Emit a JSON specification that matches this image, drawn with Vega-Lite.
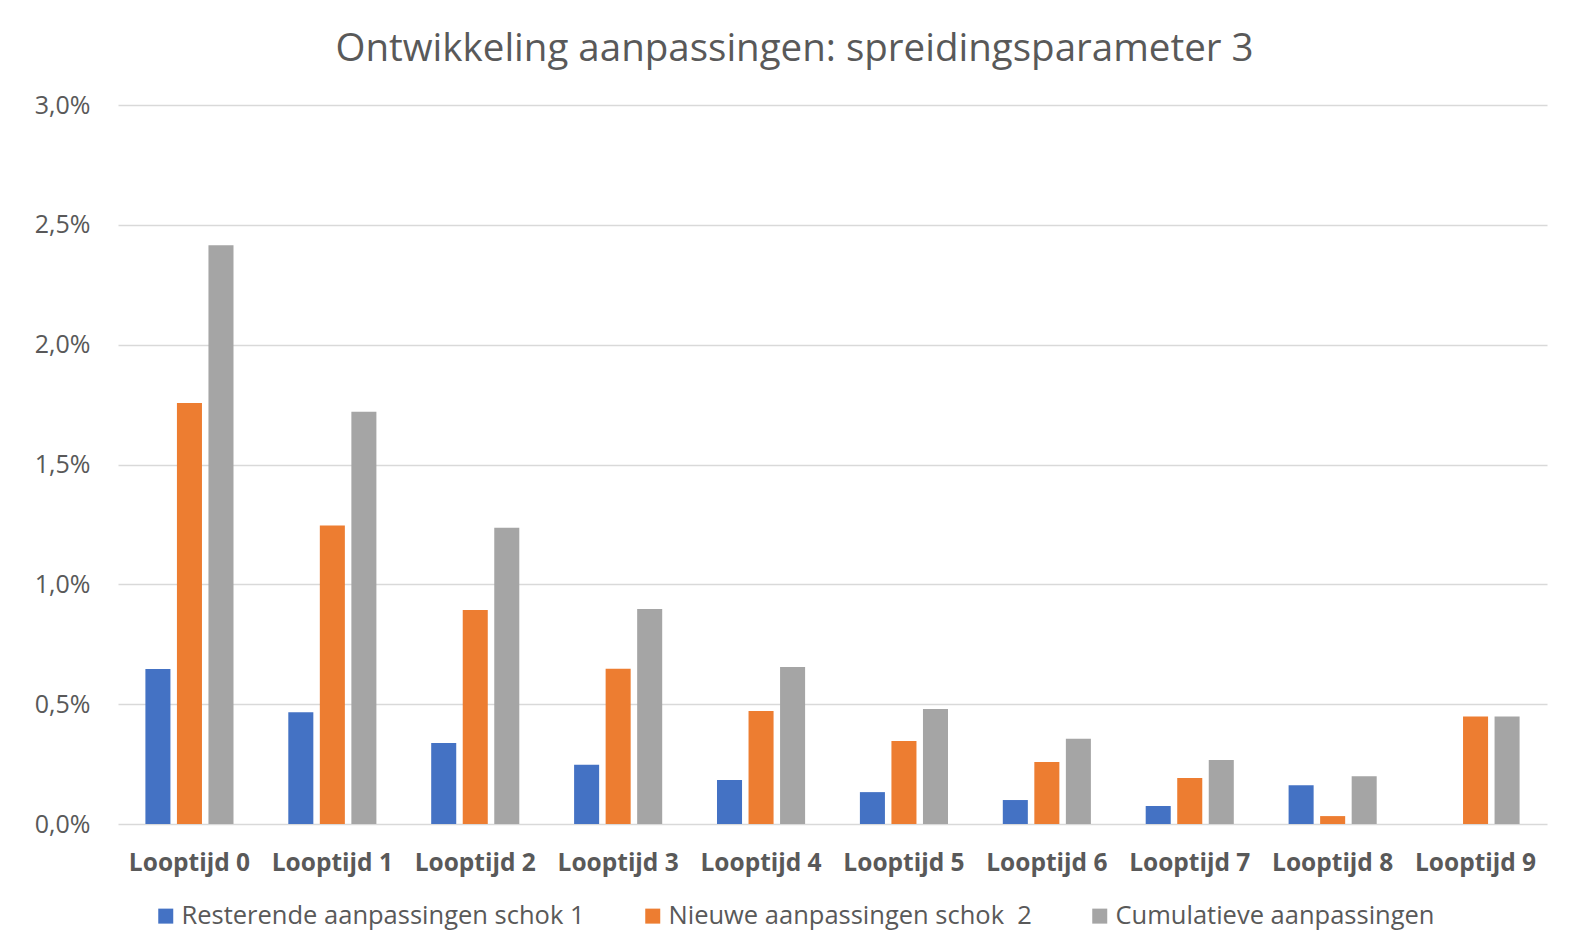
{
  "$schema": "https://vega.github.io/schema/vega-lite/v6.json",
  "width": 1429,
  "height": 719,
  "autosize": {"type": "none"},
  "padding": {"left": 118, "top": 105, "right": 25, "bottom": 120},
  "background": "white",
  "title": {
    "text": "Ontwikkeling aanpassingen: spreidingsparameter 3",
    "font": "Open Sans",
    "fontSize": 38.5,
    "fontWeight": "normal",
    "color": "#595959",
    "anchor": "middle",
    "dx": -38,
    "offset": 24
  },
  "data": {
    "values": [
      {"looptijd": "Looptijd 0", "reeks": "Resterende aanpassingen schok 1", "waarde": 0.647},
      {"looptijd": "Looptijd 0", "reeks": "Nieuwe aanpassingen schok  2", "waarde": 1.757},
      {"looptijd": "Looptijd 0", "reeks": "Cumulatieve aanpassingen", "waarde": 2.415},
      {"looptijd": "Looptijd 1", "reeks": "Resterende aanpassingen schok 1", "waarde": 0.466},
      {"looptijd": "Looptijd 1", "reeks": "Nieuwe aanpassingen schok  2", "waarde": 1.245},
      {"looptijd": "Looptijd 1", "reeks": "Cumulatieve aanpassingen", "waarde": 1.72},
      {"looptijd": "Looptijd 2", "reeks": "Resterende aanpassingen schok 1", "waarde": 0.338},
      {"looptijd": "Looptijd 2", "reeks": "Nieuwe aanpassingen schok  2", "waarde": 0.893},
      {"looptijd": "Looptijd 2", "reeks": "Cumulatieve aanpassingen", "waarde": 1.236},
      {"looptijd": "Looptijd 3", "reeks": "Resterende aanpassingen schok 1", "waarde": 0.247},
      {"looptijd": "Looptijd 3", "reeks": "Nieuwe aanpassingen schok  2", "waarde": 0.648},
      {"looptijd": "Looptijd 3", "reeks": "Cumulatieve aanpassingen", "waarde": 0.897},
      {"looptijd": "Looptijd 4", "reeks": "Resterende aanpassingen schok 1", "waarde": 0.184},
      {"looptijd": "Looptijd 4", "reeks": "Nieuwe aanpassingen schok  2", "waarde": 0.471},
      {"looptijd": "Looptijd 4", "reeks": "Cumulatieve aanpassingen", "waarde": 0.655},
      {"looptijd": "Looptijd 5", "reeks": "Resterende aanpassingen schok 1", "waarde": 0.133},
      {"looptijd": "Looptijd 5", "reeks": "Nieuwe aanpassingen schok  2", "waarde": 0.346},
      {"looptijd": "Looptijd 5", "reeks": "Cumulatieve aanpassingen", "waarde": 0.48},
      {"looptijd": "Looptijd 6", "reeks": "Resterende aanpassingen schok 1", "waarde": 0.1},
      {"looptijd": "Looptijd 6", "reeks": "Nieuwe aanpassingen schok  2", "waarde": 0.259},
      {"looptijd": "Looptijd 6", "reeks": "Cumulatieve aanpassingen", "waarde": 0.356},
      {"looptijd": "Looptijd 7", "reeks": "Resterende aanpassingen schok 1", "waarde": 0.075},
      {"looptijd": "Looptijd 7", "reeks": "Nieuwe aanpassingen schok  2", "waarde": 0.192},
      {"looptijd": "Looptijd 7", "reeks": "Cumulatieve aanpassingen", "waarde": 0.267},
      {"looptijd": "Looptijd 8", "reeks": "Resterende aanpassingen schok 1", "waarde": 0.162},
      {"looptijd": "Looptijd 8", "reeks": "Nieuwe aanpassingen schok  2", "waarde": 0.033},
      {"looptijd": "Looptijd 8", "reeks": "Cumulatieve aanpassingen", "waarde": 0.199},
      {"looptijd": "Looptijd 9", "reeks": "Resterende aanpassingen schok 1", "waarde": 0},
      {"looptijd": "Looptijd 9", "reeks": "Nieuwe aanpassingen schok  2", "waarde": 0.449},
      {"looptijd": "Looptijd 9", "reeks": "Cumulatieve aanpassingen", "waarde": 0.449}
    ]
  },
  "mark": {"type": "bar"},
  "encoding": {
    "x": {
      "field": "looptijd",
      "type": "nominal",
      "sort": null,
      "scale": {"paddingInner": 0.338, "paddingOuter": 0.169},
      "axis": {
        "title": null,
        "labelAngle": 0,
        "labelFont": "Open Sans",
        "labelFontSize": 24.5,
        "labelFontWeight": "bold",
        "labelColor": "#595959",
        "labelPadding": 27,
        "ticks": false,
        "domain": false,
        "grid": false
      }
    },
    "xOffset": {
      "field": "reeks",
      "type": "nominal",
      "sort": ["Resterende aanpassingen schok 1", "Nieuwe aanpassingen schok  2", "Cumulatieve aanpassingen"],
      "scale": {"paddingInner": 0.206, "paddingOuter": 0.103}
    },
    "y": {
      "field": "waarde",
      "type": "quantitative",
      "scale": {"domain": [0, 3], "nice": false},
      "axis": {
        "title": null,
        "values": [0, 0.5, 1, 1.5, 2, 2.5, 3],
        "labelExpr": "replace(format(datum.value, '.1f'), '.', ',') + '%'",
        "labelFont": "Open Sans",
        "labelFontSize": 25,
        "labelColor": "#595959",
        "labelPadding": 28,
        "ticks": false,
        "domain": false,
        "gridColor": "#D9D9D9",
        "gridWidth": 1.5
      }
    },
    "color": {
      "field": "reeks",
      "type": "nominal",
      "sort": ["Resterende aanpassingen schok 1", "Nieuwe aanpassingen schok  2", "Cumulatieve aanpassingen"],
      "scale": {
        "domain": ["Resterende aanpassingen schok 1", "Nieuwe aanpassingen schok  2", "Cumulatieve aanpassingen"],
        "range": ["#4472C4", "#ED7D31", "#A5A5A5"]
      },
      "legend": {
        "title": null,
        "orient": "none",
        "direction": "horizontal",
        "legendX": 35,
        "legendY": 798,
        "symbolType": "square",
        "symbolSize": 225,
        "symbolStrokeWidth": 0,
        "labelFont": "Open Sans",
        "labelFontSize": 25.5,
        "labelColor": "#595959",
        "labelOffset": 3,
        "columnPadding": 55,
        "labelLimit": 600,
        "labelExpr": "replace(datum.label, '  ', ' \u00a0')"
      }
    }
  },
  "config": {
    "view": {"stroke": null}
  }
}
